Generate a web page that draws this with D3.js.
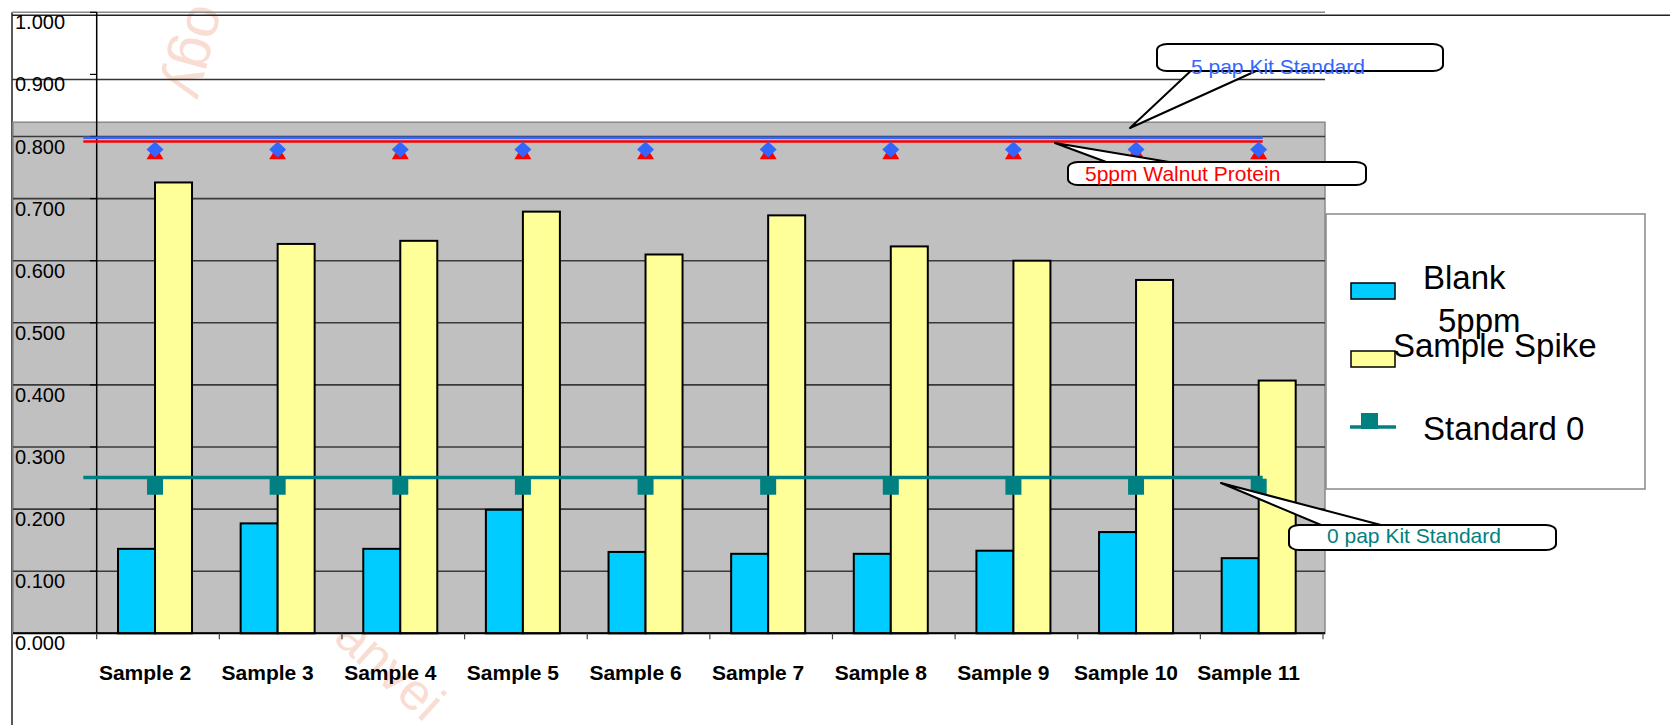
<!DOCTYPE html>
<html>
<head>
<meta charset="utf-8">
<script src="https://cdn.jsdelivr.net/npm/d3@7"></script>
<style>
  body { margin: 0; background: #fff; }
  text { font-family: "Liberation Sans", Arial, sans-serif; }
</style>
</head>
<body>
<div id="chart"></div>
<script>

var svgWidth = 1670;
var svgHeight = 725;

// data
var samples = ["Sample 2", "Sample 3", "Sample 4", "Sample 5", "Sample 6",
	"Sample 7", "Sample 8", "Sample 9", "Sample 10", "Sample 11"];
var blank = [0.136, 0.177, 0.136, 0.199, 0.131, 0.128, 0.128, 0.133, 0.163, 0.121];
var spike = [0.726, 0.627, 0.632, 0.679, 0.610, 0.673, 0.623, 0.600, 0.569, 0.407];
var kitStd5 = [0.779, 0.779, 0.779, 0.779, 0.779, 0.779, 0.779, 0.779, 0.779, 0.779];
var walnut5 = [0.773, 0.773, 0.773, 0.773, 0.773, 0.773, 0.773, 0.773, 0.773, 0.773];
var std0 = [0.236, 0.236, 0.236, 0.236, 0.236, 0.236, 0.236, 0.236, 0.236, 0.236];
var kitStd5Line = 0.798;
var walnut5Line = 0.792;
var std0Line = 0.251;
var yTicks = [0, 0.1, 0.2, 0.3, 0.4, 0.5, 0.6, 0.7, 0.8, 0.9, 1.0];
var innerTicks = [0, 0.1, 0.2, 0.3, 0.4, 0.5, 0.6, 0.7, 0.8];

var svg = d3.select("#chart")
	.append("svg")
	.attr("width", svgWidth)
	.attr("height", svgHeight);

// scales
var y = d3.scaleLinear().domain([0, 1]).range([633.3, 12.3]);
var x0 = d3.scaleBand().domain(samples).range([96.7, 1323]);
var x1 = d3.scaleBand().domain(["blank", "spike"])
	.range([0, x0.bandwidth()])
	.paddingOuter(0.657);
var shift = -3;
var cx = d => x0(d) + x0.bandwidth() / 2 + shift;

var fmt = d3.format(".3f");
var grayLeft = 13, grayRight = 1325, grayTop = y(0.823);

// faint watermark
svg.append("text")
	.attr("transform", "translate(192,2) rotate(105)")
	.attr("font-size", 58)
	.attr("fill", "#f9dcd2")
	.text("ogy");
svg.append("text")
	.attr("transform", "translate(332,640) rotate(42)")
	.attr("font-size", 52)
	.attr("fill", "#f9dcd2")
	.text("anvei");

// outer frame lines
svg.append("line").attr("x1", 12).attr("x2", 12).attr("y1", y(1)).attr("y2", svgHeight)
	.attr("stroke", "#222").attr("stroke-width", 1.5);
svg.append("line").attr("x1", 12).attr("x2", grayRight).attr("y1", y(1)).attr("y2", y(1))
	.attr("stroke", "#888").attr("stroke-width", 1.5);
svg.append("line").attr("x1", 12).attr("x2", svgWidth).attr("y1", y(1) + 3).attr("y2", y(1) + 3)
	.attr("stroke", "#222").attr("stroke-width", 1.5);
svg.append("line").attr("x1", 12).attr("x2", grayRight).attr("y1", y(0.9) + 5).attr("y2", y(0.9) + 5)
	.attr("stroke", "#333").attr("stroke-width", 1.5);

// gray plot area
svg.append("rect")
	.attr("x", grayLeft).attr("y", grayTop)
	.attr("width", grayRight - grayLeft).attr("height", y(0) - grayTop)
	.attr("fill", "#c0c0c0")
	.attr("stroke", "#8a8a8a").attr("stroke-width", 1.5);

svg.append("g").selectAll("line")
	.data(innerTicks)
	.enter()
	.append("line")
	.attr("x1", grayLeft).attr("x2", grayRight)
	.attr("y1", d => y(d)).attr("y2", d => y(d))
	.attr("stroke", "#3a3a3a").attr("stroke-width", 1.6);

// y axis line and small ticks
svg.append("line").attr("x1", 96.7).attr("x2", 96.7).attr("y1", y(1)).attr("y2", y(0))
	.attr("stroke", "#000").attr("stroke-width", 1.5);
svg.append("g").selectAll("line")
	.data(yTicks)
	.enter()
	.append("line")
	.attr("x1", 90).attr("x2", 96.7)
	.attr("y1", d => y(d)).attr("y2", d => y(d))
	.attr("stroke", "#000").attr("stroke-width", 1.2);

// y labels (sit just under their lines)
svg.append("g").selectAll("text")
	.data(yTicks)
	.enter()
	.append("text")
	.attr("x", 15)
	.attr("y", d => y(d) + 17)
	.attr("font-size", 20)
	.attr("fill", "#000")
	.text(d => fmt(d));

// bars
var groups = svg.append("g").selectAll("g")
	.data(samples)
	.enter()
	.append("g")
	.attr("transform", d => `translate(${x0(d) + shift}, 0)`);

groups.append("rect")
	.attr("x", x1("blank"))
	.attr("width", x1.bandwidth())
	.attr("y", (d, i) => y(blank[i]))
	.attr("height", (d, i) => y(0) - y(blank[i]))
	.attr("fill", "#00ccff")
	.attr("stroke", "#000").attr("stroke-width", 2);

groups.append("rect")
	.attr("x", x1("spike"))
	.attr("width", x1.bandwidth())
	.attr("y", (d, i) => y(spike[i]))
	.attr("height", (d, i) => y(0) - y(spike[i]))
	.attr("fill", "#ffff99")
	.attr("stroke", "#000").attr("stroke-width", 2);

// x axis baseline + ticks
svg.append("line").attr("x1", grayLeft).attr("x2", grayRight).attr("y1", y(0)).attr("y2", y(0))
	.attr("stroke", "#000").attr("stroke-width", 2);
svg.append("g").selectAll("line")
	.data(samples.concat(["end"]))
	.enter()
	.append("line")
	.attr("x1", (d, i) => x0.range()[0] + i * x0.bandwidth())
	.attr("x2", (d, i) => x0.range()[0] + i * x0.bandwidth())
	.attr("y1", y(0)).attr("y2", y(0) + 6)
	.attr("stroke", "#444").attr("stroke-width", 1.2);

svg.append("g").selectAll("text")
	.data(samples)
	.enter()
	.append("text")
	.attr("x", d => cx(d) - 10)
	.attr("y", 680)
	.attr("text-anchor", "middle")
	.attr("font-size", 21)
	.attr("font-weight", "bold")
	.attr("fill", "#000")
	.text(d => d);

// reference lines
var lineStart = x0(samples[0]) - 13.4;
var lineEnd = x0(samples[samples.length - 1]) + x0.bandwidth() / 2 + 1;

svg.append("line").attr("x1", lineStart).attr("x2", lineEnd)
	.attr("y1", y(kitStd5Line)).attr("y2", y(kitStd5Line))
	.attr("stroke", "#3366ff").attr("stroke-width", 2.5);
svg.append("line").attr("x1", lineStart).attr("x2", lineEnd)
	.attr("y1", y(walnut5Line)).attr("y2", y(walnut5Line))
	.attr("stroke", "#ff0000").attr("stroke-width", 2.5);
svg.append("line").attr("x1", lineStart).attr("x2", lineEnd)
	.attr("y1", y(std0Line)).attr("y2", y(std0Line))
	.attr("stroke", "#008080").attr("stroke-width", 3.5);

// markers
svg.append("g").selectAll("path")
	.data(samples)
	.enter()
	.append("path")
	.attr("d", (d, i) => {
		var px = cx(d), py = y(walnut5[i]);
		return `M${px - 8.5},${py + 6} L${px + 8.5},${py + 6} L${px},${py - 8} Z`;
	})
	.attr("fill", "#ff0000");

svg.append("g").selectAll("path")
	.data(samples)
	.enter()
	.append("path")
	.attr("d", (d, i) => {
		var px = cx(d), py = y(kitStd5[i]);
		return `M${px},${py - 8} L${px + 8.5},${py} L${px},${py + 8} L${px - 8.5},${py} Z`;
	})
	.attr("fill", "#3366ff");

svg.append("g").selectAll("rect")
	.data(samples)
	.enter()
	.append("rect")
	.attr("x", d => cx(d) - 8)
	.attr("y", (d, i) => y(std0[i]) - 8)
	.attr("width", 16).attr("height", 16)
	.attr("fill", "#008080");

// callouts
function callout(tip, b1, b2, box, label, color, tx, ty) {
	svg.append("path")
		.attr("d", `M${b1[0]},${b1[1]} L${tip[0]},${tip[1]} L${b2[0]},${b2[1]} Z`)
		.attr("fill", "#fff").attr("stroke", "#000").attr("stroke-width", 2)
		.attr("stroke-linejoin", "round");
	svg.append("rect")
		.attr("x", box[0]).attr("y", box[1])
		.attr("width", box[2]).attr("height", box[3])
		.attr("rx", 10).attr("ry", 6)
		.attr("fill", "#fff").attr("stroke", "#000").attr("stroke-width", 2);
	svg.append("text")
		.attr("x", tx).attr("y", ty)
		.attr("font-size", 21)
		.attr("fill", color)
		.text(label);
}

callout([1130, 128], [1196, 66], [1267, 66], [1157, 44, 286, 27],
	"5 pap Kit Standard", "#3366ff", 1191, 74);
callout([1055, 143], [1117, 166], [1193, 166], [1068, 162, 298, 23],
	"5ppm Walnut Protein", "#ff0000", 1085, 181);
callout([1221, 483], [1333, 530], [1400, 530], [1289, 525, 267, 25],
	"0 pap Kit Standard", "#008080", 1327, 543);

// legend
var legend = svg.append("g");
legend.append("rect")
	.attr("x", 1326).attr("y", 214)
	.attr("width", 319).attr("height", 275)
	.attr("fill", "#fff").attr("stroke", "#888").attr("stroke-width", 1.5);

legend.append("rect").attr("x", 1351).attr("y", 283).attr("width", 44).attr("height", 16)
	.attr("fill", "#00ccff").attr("stroke", "#000").attr("stroke-width", 1.5);
legend.append("text").attr("x", 1423).attr("y", 289).attr("font-size", 33).text("Blank");

legend.append("rect").attr("x", 1351).attr("y", 351).attr("width", 44).attr("height", 16)
	.attr("fill", "#ffff99").attr("stroke", "#000").attr("stroke-width", 1.5);
legend.append("text").attr("x", 1438).attr("y", 332).attr("font-size", 33).text("5ppm");
legend.append("text").attr("x", 1393).attr("y", 357).attr("font-size", 33).text("Sample Spike");

legend.append("line").attr("x1", 1350).attr("x2", 1396).attr("y1", 427).attr("y2", 427)
	.attr("stroke", "#008080").attr("stroke-width", 3.5);
legend.append("rect").attr("x", 1361).attr("y", 413).attr("width", 17).attr("height", 16)
	.attr("fill", "#008080");
legend.append("text").attr("x", 1423).attr("y", 440).attr("font-size", 33).text("Standard 0");

</script>
</body>
</html>
